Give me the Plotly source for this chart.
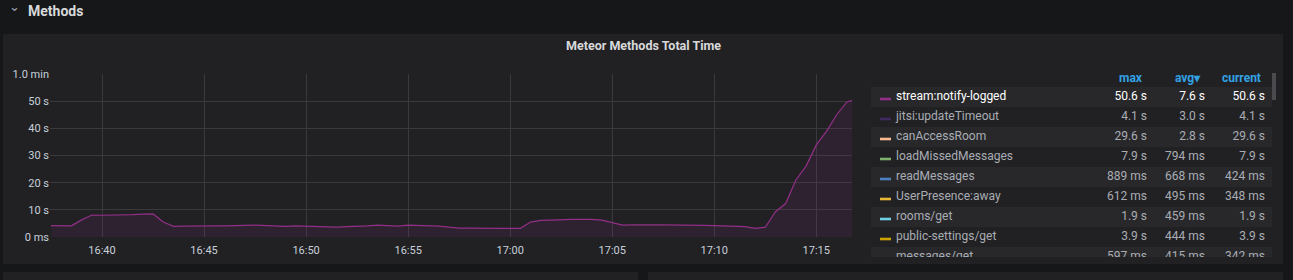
import pandas as pd
import plotly.graph_objects as go

W, H = 1293, 280

# ---- data ----
series_name = "stream:notify-logged"
start_time = "2024-01-01 16:37:30"
step = "30s"
values_s = [
    4.2, 4.1, 4.1, 6.3, 8.1, 8.0, 8.0, 8.1, 8.2, 8.4,
    8.5, 5.5, 3.9, 4.0, 4.1, 4.1, 4.1, 4.1, 4.1, 4.3,
    4.4, 4.2, 3.9, 3.9, 4.1, 4.0, 3.8, 3.7, 3.6, 3.8,
    3.9, 4.1, 4.4, 4.1, 4.0, 4.4, 4.3, 4.3, 4.0, 3.6,
    3.3, 3.3, 3.2, 3.2, 3.2, 3.2, 3.2, 5.5, 6.1, 6.2,
    6.4, 6.5, 6.5, 6.5, 6.2, 5.4, 4.4, 4.5, 4.6, 4.5,
    4.5, 4.5, 4.4, 4.4, 4.3, 4.2, 4.0, 3.9, 3.8, 3.2,
    3.6, 9.3, 12.3, 21.0, 26.1, 33.9, 38.9, 45.0, 49.7, 50.8,
]
x_range = ["2024-01-01 16:37:27", "2024-01-01 17:16:45"]

y_tickvals = [0, 10, 20, 30, 40, 50, 60]
y_ticktext = ["0 ms", "10 s", "20 s", "30 s", "40 s", "50 s", "1.0 min"]

legend_names = ["stream:notify-logged", "jitsi:updateTimeout", "canAccessRoom",
                "loadMissedMessages", "readMessages", "UserPresence:away",
                "rooms/get", "public-settings/get", "messages/get"]
legend_colors = ["#922F86", "#3E2A5E", "#F9BA8F", "#7EB26D", "#4F7FBF",
                 "#EAB839", "#6ED0E0", "#CCA300", "#9AC48A"]
legend_max = ["50.6 s", "4.1 s", "29.6 s", "7.9 s", "889 ms", "612 ms", "1.9 s", "3.9 s", "597 ms"]
legend_avg = ["7.6 s", "3.0 s", "2.8 s", "794 ms", "668 ms", "495 ms", "459 ms", "444 ms", "415 ms"]
legend_cur = ["50.6 s", "4.1 s", "29.6 s", "7.9 s", "424 ms", "348 ms", "1.9 s", "3.9 s", "342 ms"]
legend_headers = ["max", "avg\u25BE", "current"]

times = pd.date_range(start_time, periods=len(values_s), freq=step)


def px(x):
    return x / W


def py(y):
    return 1 - y / H


FONT = "Roboto, 'Helvetica Neue', Arial, sans-serif"
PAGE_BG = "#161719"
PANEL_BG = "#212124"
GRID = "#3a3a3d"

fig = go.Figure()
fig.add_trace(go.Scatter(
    x=times, y=values_s, mode="lines", name=series_name,
    line=dict(color="#922F86", width=1.2),
    fill="tozeroy", fillcolor="rgba(146,47,134,0.13)",
    hoverinfo="skip",
))

# ---- legend table on its own (clipping) axes, pixel units ----
TBL_X0, TBL_X1 = 860, 1283
TBL_TOP, TBL_BOT = 87, 257
col_right = [1145, 1203, 1263]
row_y = [TBL_TOP + 10 + 20 * i for i in range(len(legend_names))]
row_colors = ["#ffffff" if i == 0 else "#a9adb3" for i in range(len(legend_names))]

fig.add_trace(go.Scatter(
    x=[896] * len(legend_names), y=row_y, mode="text", text=legend_names,
    textposition="middle right", textfont=dict(family=FONT, size=12, color=row_colors),
    xaxis="x2", yaxis="y2", cliponaxis=True, hoverinfo="skip",
))
for j, col in enumerate([legend_max, legend_avg, legend_cur]):
    fig.add_trace(go.Scatter(
        x=[col_right[j] + 2] * len(col), y=row_y, mode="text", text=col,
        textposition="middle left", textfont=dict(family=FONT, size=12, color=row_colors),
        xaxis="x2", yaxis="y2", cliponaxis=True, hoverinfo="skip",
    ))

shapes = []
# panels
shapes.append(dict(type="rect", xref="paper", yref="paper", x0=px(3), x1=px(1283),
                   y0=py(264), y1=py(34), fillcolor=PANEL_BG, line_width=0, layer="below"))
shapes.append(dict(type="rect", xref="paper", yref="paper", x0=px(3), x1=px(638),
                   y0=py(290), y1=py(272), fillcolor=PANEL_BG, line_width=0, layer="below"))
shapes.append(dict(type="rect", xref="paper", yref="paper", x0=px(648), x1=px(1283),
                   y0=py(290), y1=py(272), fillcolor=PANEL_BG, line_width=0, layer="below"))
# legend rows
for i in range(len(legend_names)):
    top = TBL_TOP + 20 * i
    bot = min(top + 20, TBL_BOT)
    if i % 2 == 0:
        shapes.append(dict(type="rect", xref="paper", yref="paper", x0=px(871), x1=px(1272),
                           y0=py(bot), y1=py(top), fillcolor="#28282b", line_width=0, layer="below"))
    cy = top + 12
    if cy < TBL_BOT - 1:
        shapes.append(dict(type="rect", xref="paper", yref="paper", x0=px(880), x1=px(891),
                           y0=py(cy + 1.3), y1=py(cy - 1.3), fillcolor=legend_colors[i],
                           line_width=0, layer="above"))
# scrollbar
shapes.append(dict(type="rect", xref="paper", yref="paper", x0=px(1272), x1=px(1276),
                   y0=py(100), y1=py(73), fillcolor="#4a4a4f", line_width=0, layer="above"))

annotations = []
annotations.append(dict(text="\u2304", x=px(14), y=py(6), xref="paper", yref="paper",
                        xanchor="center", yanchor="middle", showarrow=False,
                        font=dict(family="DejaVu Sans", size=13, color="#9fa7b3")))
annotations.append(dict(text="<b>Methods</b>", x=px(26), y=py(11), xref="paper", yref="paper",
                        xanchor="left", yanchor="middle", showarrow=False,
                        font=dict(family=FONT, size=14, color="#d8d9da")))
annotations.append(dict(text="<b>Meteor Methods Total Time</b>", x=px(643), y=py(46),
                        xref="paper", yref="paper", xanchor="center", yanchor="middle",
                        showarrow=False, font=dict(family=FONT, size=12.5, color="#d8d9da")))

for j, htxt in enumerate(legend_headers):
    annotations.append(dict(text="<b>" + htxt + "</b>", x=px(col_right[j]), y=py(78),
                            xref="paper", yref="paper", xanchor="right", yanchor="middle",
                            showarrow=False, font=dict(family=FONT, size=12, color="#33a2e5")))

fig.update_layout(
    width=W, height=H,
    autosize=False,
    margin=dict(l=0, r=0, t=0, b=0, pad=0),
    paper_bgcolor=PAGE_BG, plot_bgcolor="rgba(0,0,0,0)",
    showlegend=False,
    shapes=shapes, annotations=annotations,
    xaxis=dict(domain=[px(50), px(852)], range=x_range, type="date",
               tick0="2024-01-01 16:40", dtick=300000, tickformat="%H:%M",
               showgrid=True, gridcolor=GRID, gridwidth=1, zeroline=False,
               showline=False, ticks="", ticklen=0, automargin=False,
               ticklabelstandoff=5,
               tickfont=dict(family=FONT, size=11, color="#c7d0d9")),
    yaxis=dict(domain=[py(237), py(74)], range=[0, 60], tickvals=y_tickvals,
               ticktext=y_ticktext, showgrid=True, gridcolor=GRID, gridwidth=1,
               zeroline=False, showline=False, ticks="", automargin=False,
               tickfont=dict(family=FONT, size=11, color="#c7d0d9")),
    xaxis2=dict(domain=[px(TBL_X0), px(TBL_X1)], range=[TBL_X0, TBL_X1], visible=False,
                anchor="y2", fixedrange=True),
    yaxis2=dict(domain=[py(TBL_BOT), py(TBL_TOP)], range=[TBL_BOT, TBL_TOP], visible=False,
                anchor="x2", fixedrange=True),
)

fig.write_html(
    "out.html",
    config={"responsive": False, "displayModeBar": False},
    post_script="document.body.style.margin='0';document.body.style.overflow='hidden';",
)
